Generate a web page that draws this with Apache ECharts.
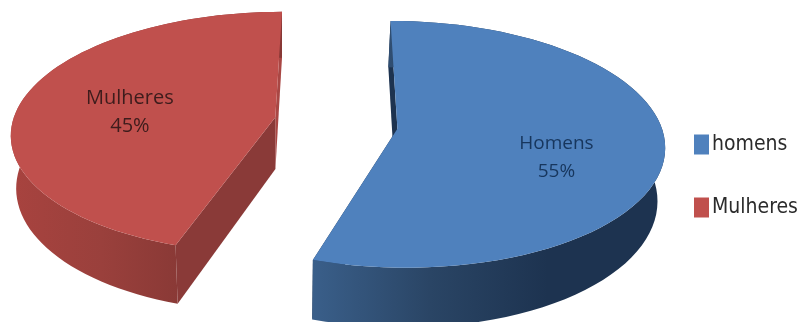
<!DOCTYPE html>
<html>
<head>
<meta charset="utf-8">
<style>html,body{margin:0;padding:0;background:#fff}#chart{width:801px;height:322px}</style>
<script src="https://cdn.jsdelivr.net/npm/echarts@6/dist/echarts.min.js"></script>
</head>
<body>
<div id="chart"></div>
<script>
// Gender split, drawn as an exploded pie with a tilted 3D look.
const legendNames = ['homens', 'Mulheres'];
const sliceLabels = ['Homens', 'Mulheres'];
const shares = [55, 45];
const topColors = ['#4f81bd', '#c0504d'];
const startFaceColors = ['#1d3350', '#8a3a38'];
const endFaceColors = ['#1d3350', '#a94744'];
const wallStops = [
  ['#3a5f8a', '#2a4565', '#1d3350', '#1d3350'],
  ['#a8433f', '#9a403c', '#873835', '#873835']
];
const labelColors = ['#17365d', '#3d1c1c'];
const labelFontSizes = [19, 20];
const labelOffsets = [[5, 18], [2, 6]];

// Camera and layout of the tilted disc
const cx = 336, cy = 123, radiusX = 263, radiusY = 120, depth = 52;
const perspective = 0.125, taper = 0.02, taperCenter = 280;
const explode = 0.235, explodeDepth = 1.3, labelRadius = 0.58;

const total = shares.reduce((a, b) => a + b, 0);
const toRad = d => d * Math.PI / 180;

function project(wx, wz, h) {
  const s = 1 / (1 - perspective * wz);
  const x = cx + radiusX * wx * s;
  return [
    x - (x - taperCenter) * taper * h,
    cy + radiusY * wz * s + depth * h * s
  ];
}

function renderSlice(params, api) {
  const idx = params.seriesIndex;
  const value = api.value(0);
  const before = shares.slice(0, idx).reduce((a, b) => a + b, 0);
  const start = before / total * 360;
  const end = start + value / total * 360;
  const mid = toRad((start + end) / 2);
  const ox = explode * Math.sin(mid);
  const oz = -explode * Math.cos(mid) * explodeDepth;
  const at = (deg, r, h) => project(
    ox + r * Math.sin(toRad(deg)),
    oz - r * Math.cos(toRad(deg)),
    h
  );

  const steps = 72;
  const rimTop = [], rimBottom = [];
  for (let i = 0; i <= steps; i++) {
    const deg = start + (end - start) * i / steps;
    rimTop.push(at(deg, 1, 0));
    rimBottom.push(at(deg, 1, 1));
  }
  const apexTop = at(0, 0, 0), apexBottom = at(0, 0, 1);
  const radialFace = (deg, fill) => ({
    type: 'polygon',
    shape: { points: [apexTop, at(deg, 1, 0), at(deg, 1, 1), apexBottom] },
    style: { fill }
  });
  const stops = wallStops[idx].map((color, i, all) => ({ offset: i / (all.length - 1), color }));

  const labelPos = project(
    ox + labelRadius * Math.sin(mid),
    oz - labelRadius * Math.cos(mid),
    0
  );

  return {
    type: 'group',
    children: [
      radialFace(end, endFaceColors[idx]),
      radialFace(start, startFaceColors[idx]),
      {
        type: 'polygon',
        shape: { points: rimTop.concat(rimBottom.slice().reverse()) },
        style: { fill: new echarts.graphic.LinearGradient(0, 0, 1, 0, stops) }
      },
      {
        type: 'polygon',
        shape: { points: [apexTop].concat(rimTop) },
        style: { fill: topColors[idx] }
      },
      {
        type: 'text',
        style: {
          x: labelPos[0] + labelOffsets[idx][0],
          y: labelPos[1] + labelOffsets[idx][1],
          text: sliceLabels[idx] + '\n' + value + '%',
          fill: labelColors[idx],
          font: labelFontSizes[idx] + 'px "Open Sans", sans-serif',
          lineHeight: 28,
          align: 'center',
          verticalAlign: 'middle'
        }
      }
    ]
  };
}

const chart = echarts.init(document.getElementById('chart'), null, { renderer: 'canvas' });
chart.setOption({
  animation: false,
  backgroundColor: '#ffffff',
  legend: {
    show: true,
    orient: 'vertical',
    left: 694,
    top: 134,
    icon: 'rect',
    itemWidth: 15,
    itemHeight: 20,
    itemGap: 42,
    padding: 0,
    selectedMode: false,
    data: legendNames,
    textStyle: {
      color: '#2b2b2b',
      fontFamily: '"DejaVu Sans Condensed", "DejaVu Sans", sans-serif',
      fontSize: 21,
      padding: [0, 0, 0, -2]
    }
  },
  series: legendNames.map((name, i) => ({
    type: 'custom',
    name,
    coordinateSystem: 'none',
    silent: true,
    itemStyle: { color: topColors[i] },
    renderItem: renderSlice,
    data: [[shares[i]]]
  }))
});
</script>
</body>
</html>
